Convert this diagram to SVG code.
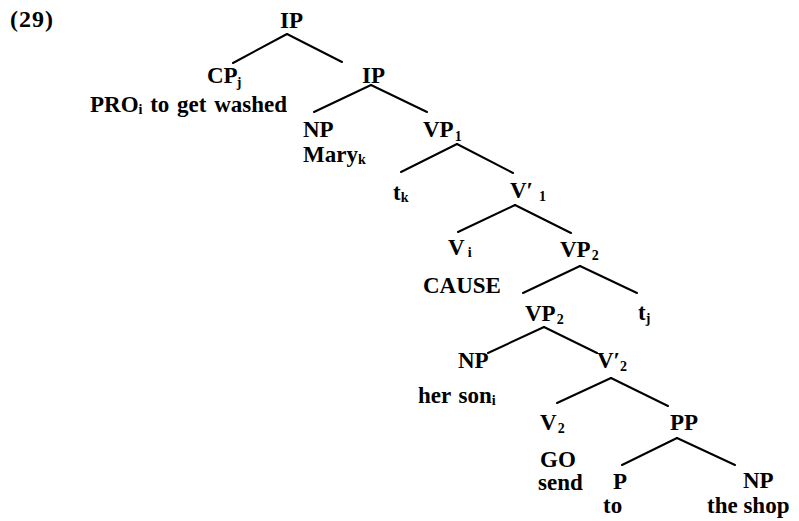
<svg xmlns="http://www.w3.org/2000/svg" width="799" height="521" viewBox="0 0 799 521">
<style>
text{font-family:"Liberation Serif","Times New Roman",serif;font-weight:bold;font-size:23px;fill:#000}
.s{font-size:14px}
.w{word-spacing:2px}
line{stroke:#000;stroke-width:2;stroke-linecap:round}
</style>
<rect width="799" height="521" fill="#fff"/>
<text id="label29" x="10" y="27" style="font-size:24px;letter-spacing:1px">(29)</text>
<g id="connectors">
<line x1="287" y1="34" x2="233" y2="63"/>
<line x1="287" y1="34" x2="342" y2="62"/>
<line x1="371" y1="85" x2="314" y2="112"/>
<line x1="371" y1="85" x2="427" y2="112"/>
<line x1="457" y1="144" x2="401" y2="172"/>
<line x1="457" y1="144" x2="513" y2="173"/>
<line x1="515" y1="205" x2="458" y2="232"/>
<line x1="515" y1="205" x2="571" y2="233"/>
<line x1="580" y1="266" x2="523" y2="293"/>
<line x1="580" y1="266" x2="637" y2="293"/>
<line x1="544" y1="327" x2="488" y2="353"/>
<line x1="544" y1="327" x2="597" y2="353"/>
<line x1="611" y1="378" x2="557" y2="403"/>
<line x1="611" y1="378" x2="668" y2="406"/>
<line x1="677" y1="438" x2="622" y2="465"/>
<line x1="677" y1="438" x2="735" y2="465"/>
</g>
<g id="n-ip"><text x="280" y="28">IP</text></g>
<g id="n-cp"><text x="207" y="83">CP<tspan class="s" dx="-1" dy="4">j</tspan></text></g>
<g id="n-ip2"><text x="362" y="83">IP</text></g>
<g id="n-pro"><text x="90" y="112" class="w">PRO<tspan class="s" dy="2">i</tspan><tspan dy="-2"> to get washed</tspan></text></g>
<g id="n-np1"><text x="303" y="137">NP</text></g>
<g id="n-vp1"><text x="423" y="137">VP<tspan class="s" dx="1" dy="4">1</tspan></text></g>
<g id="n-mary"><text x="303" y="162">Mary<tspan class="s" dy="2">k</tspan></text></g>
<g id="n-tk"><text x="393" y="200">t<tspan class="s" dy="2">k</tspan></text></g>
<g id="n-vbar1"><text x="510" y="198">V′<tspan class="s" dx="6" dy="3">1</tspan></text></g>
<g id="n-vi"><text x="448" y="255">V<tspan class="s" dx="3" dy="2">i</tspan></text></g>
<g id="n-vp2a"><text x="560" y="257">VP<tspan class="s" dx="1" dy="3">2</tspan></text></g>
<g id="n-cause"><text x="423" y="293">CAUSE</text></g>
<g id="n-vp2b"><text x="525" y="321">VP<tspan class="s" dx="1" dy="3">2</tspan></text></g>
<g id="n-tj"><text x="638" y="320">t<tspan class="s" dy="3">j</tspan></text></g>
<g id="n-np2"><text x="458" y="368">NP</text></g>
<g id="n-vbar2"><text x="597" y="368">V′<tspan class="s" dy="3">2</tspan></text></g>
<g id="n-herson"><text x="418" y="403" class="w">her son<tspan class="s" dy="2">i</tspan></text></g>
<g id="n-v2"><text x="540" y="430">V<tspan class="s" dx="1" dy="3">2</tspan></text></g>
<g id="n-pp"><text x="670" y="430">PP</text></g>
<g id="n-go"><text x="540" y="467">GO</text><text x="538" y="490">send</text></g>
<g id="n-p"><text x="613" y="489">P</text><text x="603" y="513">to</text></g>
<g id="n-np3"><text x="743" y="488">NP</text><text x="707" y="513">the shop</text></g>
</svg>
